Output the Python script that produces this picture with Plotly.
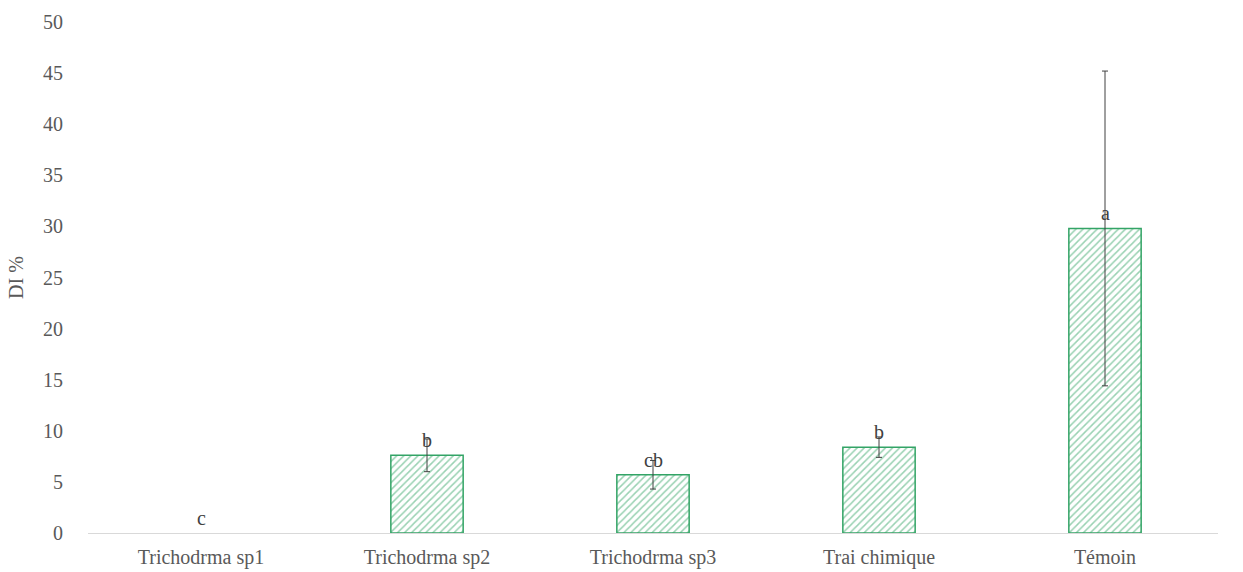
import plotly.graph_objects as go

categories = ["Trichodrma sp1", "Trichodrma sp2", "Trichodrma sp3", "Trai chimique", "Témoin"]
di_values = [0.0, 7.6, 5.7, 8.4, 29.8]
di_errors = [0.0, 1.6, 1.4, 1.0, 15.4]
group_letters = ["c", "b", "cb", "b", "a"]
y_ticks = [0, 5, 10, 15, 20, 25, 30, 35, 40, 45, 50]

green = "#33a466"
font_family = "Times New Roman, Liberation Serif, serif"
gray = "#595959"

line_colors = ["rgba(0,0,0,0)" if v == 0 else green for v in di_values]
line_widths = [0 if v == 0 else 1.5 for v in di_values]

fig = go.Figure()
fig.add_trace(go.Bar(
    x=categories,
    y=di_values,
    width=0.32,
    marker=dict(
        color="white",
        line=dict(color=line_colors, width=line_widths),
        pattern=dict(shape="/", fgcolor=green, bgcolor="white", size=5, solidity=0.3),
    ),
    showlegend=False,
    hoverinfo="x+y",
))

# error bars only where an error exists
err_idx = [i for i, e in enumerate(di_errors) if e > 0]
fig.add_trace(go.Scatter(
    x=[categories[i] for i in err_idx],
    y=[di_values[i] for i in err_idx],
    mode="markers",
    marker=dict(size=1, opacity=0),
    error_y=dict(type="data", array=[di_errors[i] for i in err_idx], visible=True,
                 color="#404040", thickness=1, width=3),
    showlegend=False,
    hoverinfo="skip",
))

for cat, val, lab in zip(categories, di_values, group_letters):
    fig.add_annotation(
        x=cat, y=val, text=lab, showarrow=False, yanchor="bottom", yshift=2,
        font=dict(family=font_family, size=20, color="#404040"),
    )

fig.update_layout(
    width=1243, height=572,
    margin=dict(l=88, r=25, t=22, b=39),
    plot_bgcolor="white", paper_bgcolor="white",
    font=dict(family=font_family, size=20, color=gray),
    bargap=0.68,
)
fig.update_xaxes(
    showline=True, linecolor="#d9d9d9", linewidth=1, showgrid=False, ticks="",
    tickfont=dict(family=font_family, size=20, color=gray),
    ticklabelstandoff=6, automargin=False,
)
fig.update_yaxes(
    range=[0, 50], tickvals=y_ticks, showgrid=False, zeroline=False, showline=False,
    ticks="", ticklen=0, ticklabelstandoff=24, automargin=False,
    tickfont=dict(family=font_family, size=20, color=gray),
    title=dict(text="DI %", font=dict(family=font_family, size=20, color=gray), standoff=14),
)

fig.write_html("out.html")
